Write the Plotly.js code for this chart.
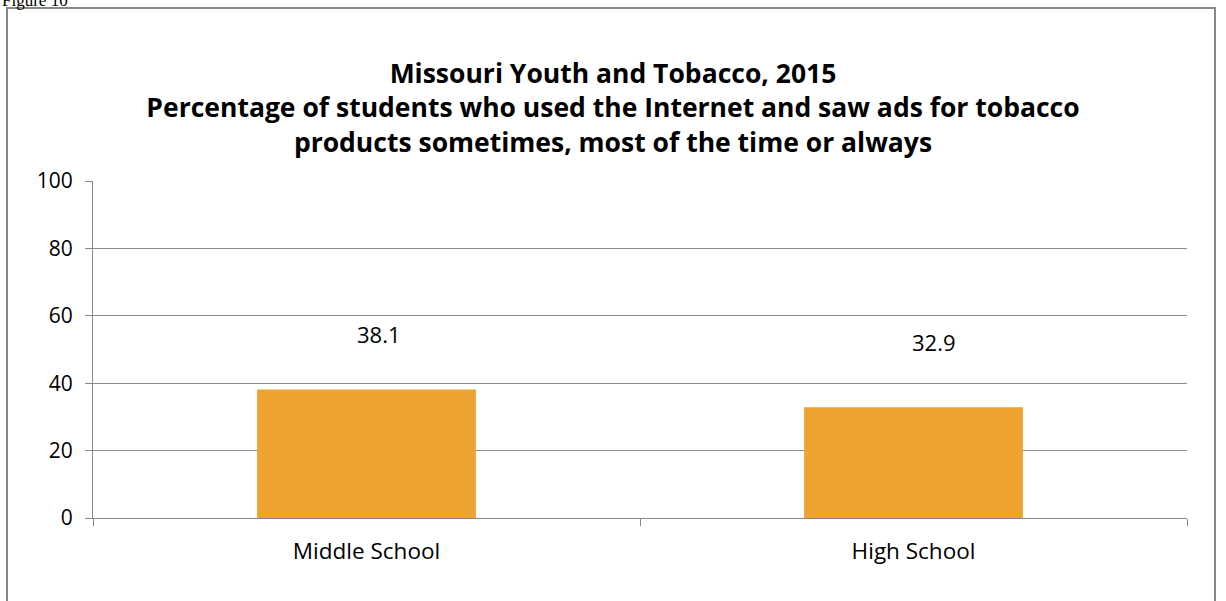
<!DOCTYPE html>
<html>
<head>
<meta charset="utf-8">
<script src="https://cdn.plot.ly/plotly-3.0.1.min.js"></script>
<style>html,body{margin:0;padding:0;background:#fff;}#chart{width:1226px;height:601px;}</style>
</head>
<body>
<div id="chart"></div>
<script>
const categories = ["Middle School", "High School"];
const values = [38.1, 32.9];
const labelText = ["38.1", "32.9"];
const yTicks = [0, 20, 40, 60, 80, 100];
const titleLines = ["Missouri Youth and Tobacco, 2015",
  "Percentage of students who used the Internet and saw ads for tobacco",
  "products sometimes, most of the time or always"];

const labelShiftY = [56, 65];
const labelShiftX = [12, 20];
const FONT = "Open Sans, Noto Sans, sans-serif";

const trace = {
  type: "bar",
  x: categories,
  y: values,
  width: 0.4,
  marker: {color: "#EEA230"},
  hoverinfo: "skip"
};

const annotations = categories.map((c, i) => ({
  x: c, y: values[i], xref: "x", yref: "y",
  text: labelText[i], showarrow: false, yshift: labelShiftY[i], xshift: labelShiftX[i],
  font: {family: FONT, size: 22, color: "#000"}
}));
annotations.push({
  xref: "paper", yref: "paper", x: -0.085, y: 1.537, xanchor: "left", yanchor: "middle",
  text: "Figure 10", showarrow: false,
  font: {family: "Liberation Serif, serif", size: 17, color: "#000"}
});

const layout = {
  width: 1226, height: 601,
  margin: {l: 93, r: 39, t: 181, b: 83},
  paper_bgcolor: "#fff", plot_bgcolor: "#fff",
  showlegend: false,
  title: {
    text: "<b>" + titleLines.join("<br>") + "</b>",
    font: {family: FONT, size: 26.5, color: "#000"},
    x: 0.5, xanchor: "center", y: 0.862, yanchor: "top"
  },
  xaxis: {
    type: "category",
    tickson: "boundaries",
    ticks: "outside", ticklen: 7, tickcolor: "#888", tickwidth: 1,
    showline: true, linecolor: "#888", linewidth: 1,
    showgrid: false,
    ticklabelstandoff: 13,
    tickfont: {family: FONT, size: 22.5, color: "#000"}
  },
  yaxis: {
    range: [0, 100], tickvals: yTicks, ticktext: yTicks.map(String),
    ticks: "outside", ticklen: 7, tickcolor: "#888", tickwidth: 1,
    showline: true, linecolor: "#888", linewidth: 1,
    showgrid: true, gridcolor: "#8c8c8c", gridwidth: 1,
    zeroline: false,
    ticklabelstandoff: 8,
    tickfont: {family: FONT, size: 21, color: "#000"}
  },
  annotations: annotations,
  shapes: [{
    type: "rect", xref: "paper", yref: "paper",
    x0: (7 - 93) / 1094, x1: (1215 - 93) / 1094,
    y0: (518 - 610) / 337, y1: (518 - 8) / 337,
    line: {color: "#888", width: 2}, fillcolor: "rgba(0,0,0,0)", layer: "below"
  }]
};

Plotly.newPlot("chart", [trace], layout, {displayModeBar: false, staticPlot: true});
</script>
</body>
</html>
